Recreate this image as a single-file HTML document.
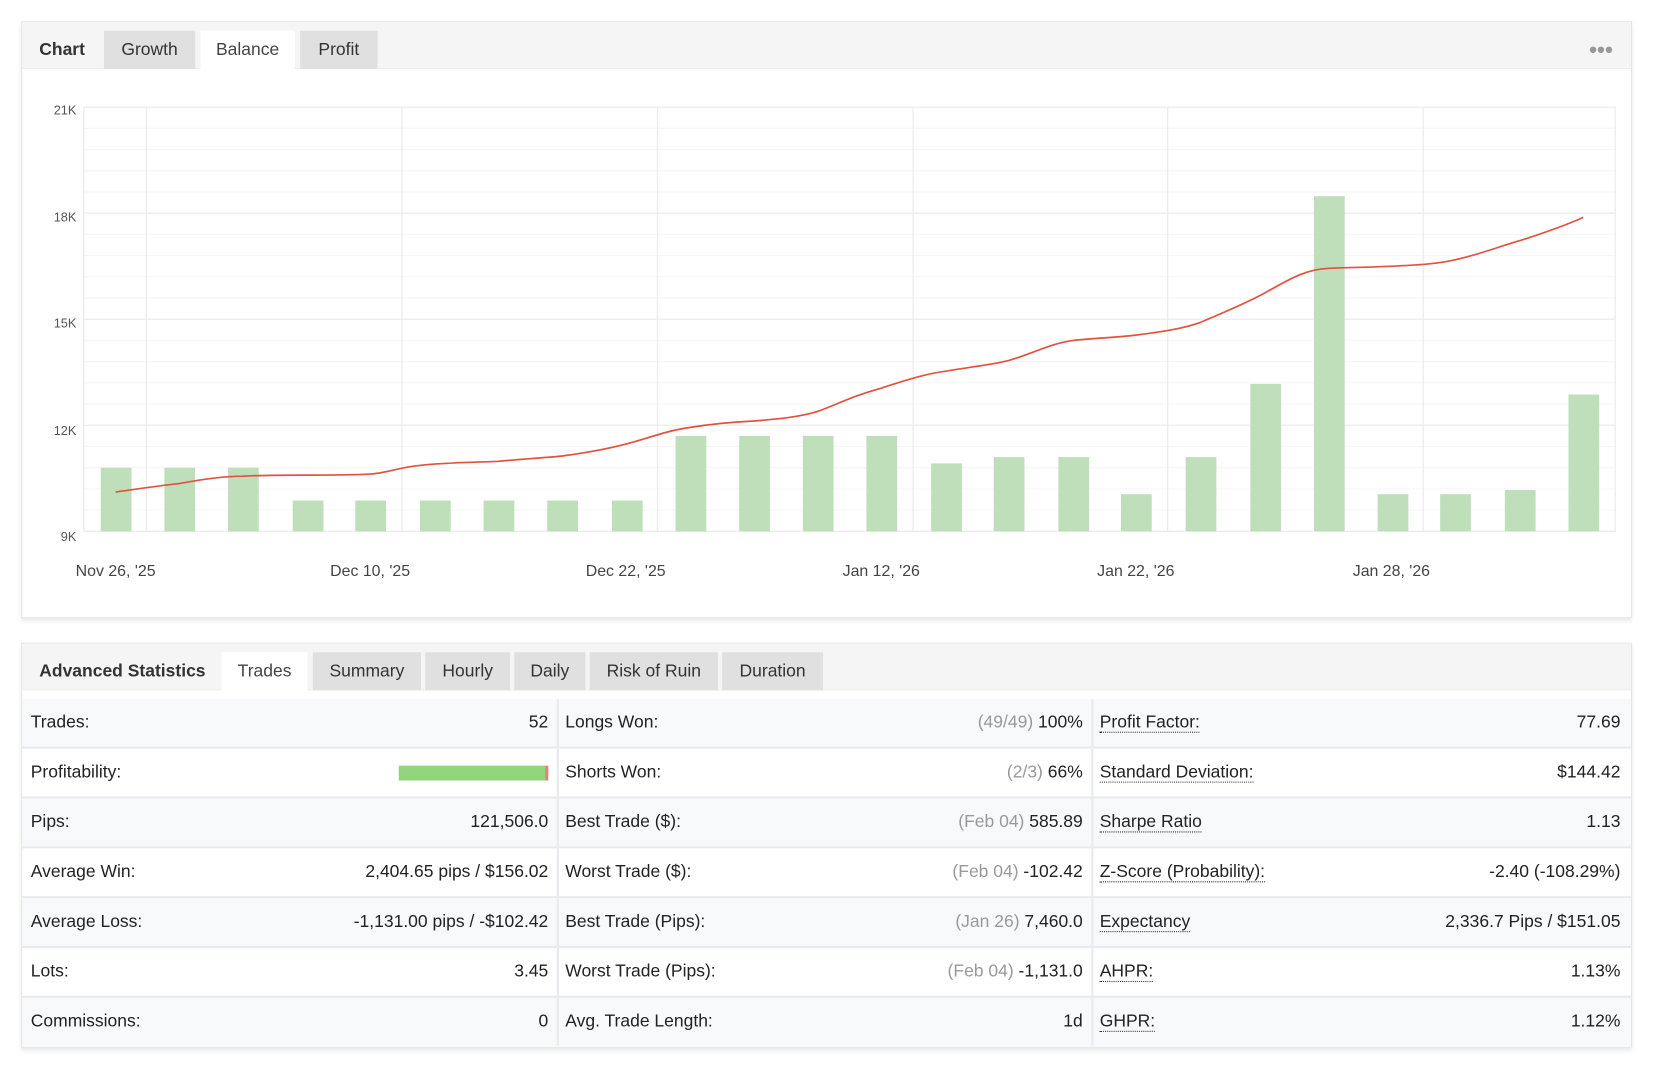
<!DOCTYPE html>
<html><head><meta charset="utf-8"><style>
html,body{margin:0;padding:0;background:#fff;width:1664px;height:1080px;overflow:hidden}
#w{position:absolute;left:0;top:0;width:1570px;height:1019px;transform:scale(1.0605);transform-origin:0 0;font-family:"Liberation Sans",sans-serif;color:#222}
.panel{position:absolute;left:20px;width:1517px;border:1px solid #e3e3e3;box-shadow:0 3px 4px rgba(0,0,0,.08);background:#fff}
.bar{position:absolute;left:0;top:0;right:0;height:43px;background:#f5f5f5;border-bottom:1px solid #eee}
.t{position:absolute;top:8px;height:36px;line-height:36px;font-size:16.5px;text-align:center;background:#e0e0e0;color:#333}
.t.a{background:#fff;color:#444}
.h{position:absolute;top:8px;line-height:36px;font-size:16.5px;font-weight:bold;color:#333}
.row{position:absolute;left:0;width:1517px;height:45px;border-bottom:2px solid #e8eaee;font-size:16.5px}
.c{position:absolute;top:0;height:45px;line-height:45px;width:496px}
.c .l{position:absolute;left:8px}
.c .r{position:absolute;right:0}
.g{color:#999}
.u{border-bottom:1px dotted #333;line-height:18px;display:inline-block;margin-top:13px}
.sep{position:absolute;top:0;width:2px;height:45px;background:#e8eaee}
</style></head><body><div id="w">
<div class="panel" style="top:20px;height:561px">
 <div class="bar"></div>
 <div class="h" style="left:16px">Chart</div>
 <div class="t" style="left:77px;width:86px">Growth</div>
 <div class="t a" style="left:168px;width:89px">Balance</div>
 <div class="t" style="left:262px;width:73px">Profit</div>
 <div style="position:absolute;left:1477px;top:17px;font-size:14px;color:#999;letter-spacing:-1px">●●●</div>
</div>
<svg style="position:absolute;left:0;top:0" width="1560" height="590" font-family="Liberation Sans, sans-serif">
 <g stroke="#f6f6f6" stroke-width="1">
  <line x1="79" x2="1523" y1="121" y2="121"/><line x1="79" x2="1523" y1="141" y2="141"/><line x1="79" x2="1523" y1="161" y2="161"/><line x1="79" x2="1523" y1="181" y2="181"/>
  <line x1="79" x2="1523" y1="221" y2="221"/><line x1="79" x2="1523" y1="241" y2="241"/><line x1="79" x2="1523" y1="261" y2="261"/><line x1="79" x2="1523" y1="281" y2="281"/>
  <line x1="79" x2="1523" y1="321" y2="321"/><line x1="79" x2="1523" y1="341" y2="341"/><line x1="79" x2="1523" y1="361" y2="361"/><line x1="79" x2="1523" y1="381" y2="381"/>
  <line x1="79" x2="1523" y1="421" y2="421"/><line x1="79" x2="1523" y1="441" y2="441"/><line x1="79" x2="1523" y1="461" y2="461"/><line x1="79" x2="1523" y1="481" y2="481"/>
 </g>
 <g stroke="#ececec" stroke-width="1.2">
  <line x1="79" x2="1523" y1="101" y2="101"/><line x1="79" x2="1523" y1="201" y2="201"/><line x1="79" x2="1523" y1="301" y2="301"/><line x1="79" x2="1523" y1="401" y2="401"/><line x1="79" x2="1523" y1="501" y2="501"/>
  <line x1="79" x2="79" y1="101" y2="501"/><line x1="1523" x2="1523" y1="101" y2="501"/>
  <line x1="138" x2="138" y1="101" y2="501"/><line x1="379" x2="379" y1="101" y2="501"/><line x1="620" x2="620" y1="101" y2="501"/><line x1="861" x2="861" y1="101" y2="501"/><line x1="1101" x2="1101" y1="101" y2="501"/><line x1="1342" x2="1342" y1="101" y2="501"/>
 </g>
 <g fill="#555" font-size="12" text-anchor="end">
  <text x="72" y="108">21K</text><text x="72" y="209">18K</text><text x="72" y="309">15K</text><text x="72" y="410">12K</text><text x="72" y="510">9K</text>
 </g>
 <g fill="#444" font-size="15" text-anchor="middle">
  <text x="109" y="543">Nov 26, '25</text><text x="349" y="543">Dec 10, '25</text><text x="590" y="543">Dec 22, '25</text><text x="831" y="543">Jan 12, '26</text><text x="1071" y="543">Jan 22, '26</text><text x="1312" y="543">Jan 28, '26</text>
 </g>
 <g fill="#bfdfbb">
  <rect x="95" y="441" width="29" height="60"/><rect x="155" y="441" width="29" height="60"/><rect x="215" y="441" width="29" height="60"/>
  <rect x="276" y="472" width="29" height="29"/><rect x="335" y="472" width="29" height="29"/><rect x="396" y="472" width="29" height="29"/>
  <rect x="456" y="472" width="29" height="29"/><rect x="516" y="472" width="29" height="29"/><rect x="577" y="472" width="29" height="29"/>
  <rect x="637" y="411" width="29" height="90"/><rect x="697" y="411" width="29" height="90"/><rect x="757" y="411" width="29" height="90"/><rect x="817" y="411" width="29" height="90"/>
  <rect x="878" y="437" width="29" height="64"/><rect x="937" y="431" width="29" height="70"/><rect x="998" y="431" width="29" height="70"/>
  <rect x="1057" y="466" width="29" height="35"/><rect x="1118" y="431" width="29" height="70"/><rect x="1179" y="362" width="29" height="139"/>
  <rect x="1239" y="185" width="29" height="316"/><rect x="1299" y="466" width="29" height="35"/><rect x="1358" y="466" width="29" height="35"/>
  <rect x="1419" y="462" width="29" height="39"/><rect x="1479" y="372" width="29" height="129"/>
 </g>
 <path fill="none" stroke="#e0533f" stroke-width="1.6" d="M109,464 C130,461 150,458 169,456 C190,452 210,449 229,449 C250,448 270,448 290,448 C310,448 330,448 349,447 C365,446 375,441 395,439 C420,436 450,436 470,435 C490,433 510,432 530,430 C560,426 580,422 600,416 C620,410 635,405 651,403 C670,400 690,398 711,397 C735,395 755,393 771,388 C790,381 805,373 831,366 C855,358 875,352 892,350 C915,346 935,344 951,340 C975,333 990,324 1012,321 C1030,319 1055,318 1071,316 C1095,313 1115,310 1132,304 C1155,294 1175,286 1193,276 C1215,264 1230,254 1253,253 C1275,252 1295,252 1313,251 C1335,250 1355,249 1372,245 C1395,240 1415,232 1433,227 C1455,220 1475,213 1493,205"/>
</svg>

<div class="panel" style="top:606px;height:380px">
 <div class="bar"></div>
 <div class="h" style="left:16px">Advanced Statistics</div>
 <div class="t a" style="left:188px;width:81px">Trades</div>
 <div class="t" style="left:274px;width:102px">Summary</div>
 <div class="t" style="left:380px;width:80px">Hourly</div>
 <div class="t" style="left:464px;width:67px">Daily</div>
 <div class="t" style="left:535px;width:121px">Risk of Ruin</div>
 <div class="t" style="left:660px;width:95px">Duration</div>

 <div class="row" style="top:52px;background:#f8f9fb"><div class="c" style="left:0"><span class="l">Trades:</span><span class="r">52</span></div><div class="sep" style="left:504px"></div><div class="c" style="left:504px"><span class="l">Longs Won:</span><span class="r"><span class="g">(49/49)</span> 100%</span></div><div class="sep" style="left:1008px"></div><div class="c" style="left:1008px;width:499px"><span class="l"><span class="u">Profit Factor:</span></span><span class="r">77.69</span></div></div>
 <div class="row" style="top:99px;background:#fff"><div class="c" style="left:0"><span class="l">Profitability:</span><span style="position:absolute;left:355px;top:16px;width:138px;height:14px;background:#8fd67f"></span><span style="position:absolute;left:493px;top:16px;width:3px;height:14px;background:#ef7c72"></span></div><div class="sep" style="left:504px"></div><div class="c" style="left:504px"><span class="l">Shorts Won:</span><span class="r"><span class="g">(2/3)</span> 66%</span></div><div class="sep" style="left:1008px"></div><div class="c" style="left:1008px;width:499px"><span class="l"><span class="u">Standard Deviation:</span></span><span class="r">$144.42</span></div></div>
 <div class="row" style="top:146px;background:#f8f9fb"><div class="c" style="left:0"><span class="l">Pips:</span><span class="r">121,506.0</span></div><div class="sep" style="left:504px"></div><div class="c" style="left:504px"><span class="l">Best Trade ($):</span><span class="r"><span class="g">(Feb 04)</span> 585.89</span></div><div class="sep" style="left:1008px"></div><div class="c" style="left:1008px;width:499px"><span class="l"><span class="u">Sharpe Ratio</span></span><span class="r">1.13</span></div></div>
 <div class="row" style="top:193px;background:#fff"><div class="c" style="left:0"><span class="l">Average Win:</span><span class="r">2,404.65 pips / $156.02</span></div><div class="sep" style="left:504px"></div><div class="c" style="left:504px"><span class="l">Worst Trade ($):</span><span class="r"><span class="g">(Feb 04)</span> -102.42</span></div><div class="sep" style="left:1008px"></div><div class="c" style="left:1008px;width:499px"><span class="l"><span class="u">Z-Score (Probability):</span></span><span class="r">-2.40 (-108.29%)</span></div></div>
 <div class="row" style="top:240px;background:#f8f9fb"><div class="c" style="left:0"><span class="l">Average Loss:</span><span class="r">-1,131.00 pips / -$102.42</span></div><div class="sep" style="left:504px"></div><div class="c" style="left:504px"><span class="l">Best Trade (Pips):</span><span class="r"><span class="g">(Jan 26)</span> 7,460.0</span></div><div class="sep" style="left:1008px"></div><div class="c" style="left:1008px;width:499px"><span class="l"><span class="u">Expectancy</span></span><span class="r">2,336.7 Pips / $151.05</span></div></div>
 <div class="row" style="top:287px;background:#fff"><div class="c" style="left:0"><span class="l">Lots:</span><span class="r">3.45</span></div><div class="sep" style="left:504px"></div><div class="c" style="left:504px"><span class="l">Worst Trade (Pips):</span><span class="r"><span class="g">(Feb 04)</span> -1,131.0</span></div><div class="sep" style="left:1008px"></div><div class="c" style="left:1008px;width:499px"><span class="l"><span class="u">AHPR:</span></span><span class="r">1.13%</span></div></div>
 <div class="row" style="top:334px;background:#f8f9fb;border-bottom:none"><div class="c" style="left:0"><span class="l">Commissions:</span><span class="r">0</span></div><div class="sep" style="left:504px"></div><div class="c" style="left:504px"><span class="l">Avg. Trade Length:</span><span class="r">1d</span></div><div class="sep" style="left:1008px"></div><div class="c" style="left:1008px;width:499px"><span class="l"><span class="u">GHPR:</span></span><span class="r">1.12%</span></div></div>
</div>
</div></body></html>
